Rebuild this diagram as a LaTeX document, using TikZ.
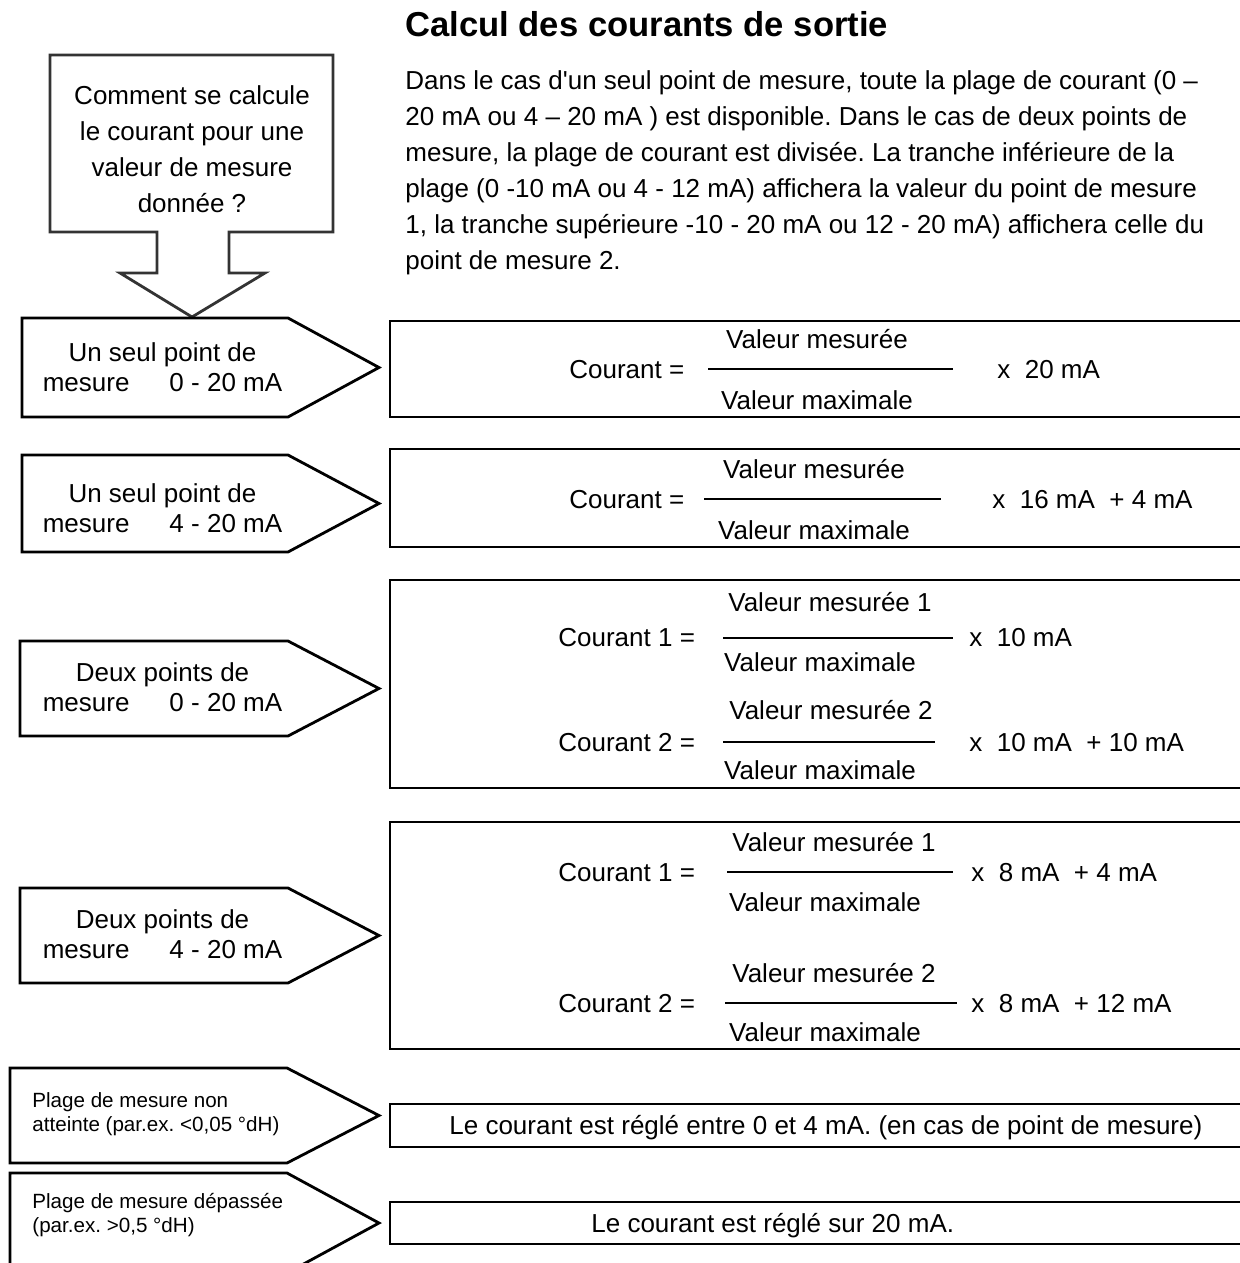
\documentclass[tikz,border=0pt]{standalone}
\usepackage{fontspec}
\setmainfont{Liberation Sans}
\usetikzlibrary{positioning}
\frenchspacing

\begin{document}
\begin{tikzpicture}[x=0.5pt, y=-0.5pt, every node/.style={inner sep=0pt},
  body/.style={font=\fontsize{13pt}{15pt}\selectfont},
  lbl/.style={body, anchor=base west},
  mid/.style={body, anchor=base},
  casetxt/.style={font=\fontsize{13pt}{15pt}\selectfont, align=center, anchor=north},
  smalltxt/.style={font=\fontsize{10.3pt}{12pt}\selectfont, align=left, anchor=north west},
  frame/.style={line width=1.4pt, draw=black, line join=miter},
  bar/.style={line width=0.9pt}]
  \useasboundingbox (0,0) rectangle (1240,1263);
  \clip (0,0) rectangle (1240,1263);

  % heading and explanation
  \node[anchor=base west, font=\fontsize{17.3pt}{20pt}\selectfont\bfseries] (title) at (405,37) {Calcul des courants de sortie};
  \node[anchor=north west, align=left, font=\fontsize{13pt}{18pt}\selectfont] (intro) at (405,63.8)
    {\strut Dans le cas d\textquotesingle un seul point de mesure, toute la plage de courant (0 –\\
     20 mA ou 4 – 20 mA ) est disponible. Dans le cas de deux points de\\
     mesure, la plage de courant est divisée. La tranche inférieure de la\\
     plage (0 -10 mA ou 4 - 12 mA) affichera la valeur du point de mesure\\
     1, la tranche supérieure -10 - 20 mA ou 12 - 20 mA) affichera celle du\\
     point de mesure 2.};

  % question with arrow down
  \draw[frame, draw=black!80] (50,55) -- (333,55) -- (333,232) -- (229,232) -- (229,273) -- (265,273)
    -- (192,317) -- (120,273) -- (157,273) -- (157,232) -- (50,232) -- cycle;
  \node[align=center, anchor=north, font=\fontsize{13pt}{18pt}\selectfont] (question) at (192,78.8)
    {\strut Comment se calcule\\le courant pour une\\valeur de mesure\\donnée ?};

  % cases (pointed boxes)
  \foreach \l/\t/\b/\p in {22/318/417/288, 22/455/552/288, 20/641/736/288, 20/888/983/288,
      10/1068/1163/287, 10/1173/1273/287}
    \draw[frame] (\l,\t) -- (\p,\t) -- (379,{(\t+\b)/2}) -- (\p,\b) -- (\l,\b) -- cycle;
  \node[casetxt] (single020) at (162.5,340) {\strut Un seul point de\\mesure\hspace{1.54em}0 - 20 mA};
  \node[casetxt] (single420) at (162.5,481) {\strut Un seul point de\\mesure\hspace{1.54em}4 - 20 mA};
  \node[casetxt] (double020) at (162.5,660) {\strut Deux points de\\mesure\hspace{1.54em}0 - 20 mA};
  \node[casetxt] (double420) at (162.5,907) {\strut Deux points de\\mesure\hspace{1.54em}4 - 20 mA};
  \node[smalltxt] (under) at (32,1090) {\strut Plage de mesure non\\atteinte (par.ex. <0,05 °dH)};
  \node[smalltxt] (over) at (32,1191) {\strut Plage de mesure dépassée\\(par.ex. >0,5 °dH)};

  % result boxes
  \foreach \t/\b in {321/417, 449/547, 580/788, 822/1049, 1104/1147, 1202/1244}
    \draw[frame] (390,\t) rectangle (1260,\b);

  % one point, 0 - 20 mA
  \node[lbl] (c1) at (569,378) {Courant =};
  \node[mid] (c1num) at (817,348) {Valeur mesurée};
  \node[mid] (c1den) at (817,409) {Valeur maximale};
  \draw[bar] (708,369) -- (953,369);
  \node[lbl] (c1fac) at (997,378) {x~~20 mA};

  % one point, 4 - 20 mA
  \node[lbl] (c2) at (569,508) {Courant =};
  \node[mid] (c2num) at (814,478) {Valeur mesurée};
  \node[mid] (c2den) at (814,539) {Valeur maximale};
  \draw[bar] (704,499) -- (941,499);
  \node[lbl] (c2fac) at (992,508) {x~~16 mA~~+ 4 mA};

  % two points, 0 - 20 mA
  \node[lbl] (c3a) at (558,646) {Courant 1 =};
  \node[mid] (c3anum) at (830,611) {Valeur mesurée 1};
  \node[mid] (c3aden) at (820,671) {Valeur maximale};
  \draw[bar] (723,638) -- (953,638);
  \node[lbl] (c3afac) at (969,646) {x~~10 mA};
  \node[lbl] (c3b) at (558,751) {Courant 2 =};
  \node[mid] (c3bnum) at (831,719) {Valeur mesurée 2};
  \node[mid] (c3bden) at (820,779) {Valeur maximale};
  \draw[bar] (723,742) -- (935,742);
  \node[lbl] (c3bfac) at (969,751) {x~~10 mA~~+ 10 mA};

  % two points, 4 - 20 mA
  \node[lbl] (c4a) at (558,881) {Courant 1 =};
  \node[mid] (c4anum) at (834,851) {Valeur mesurée 1};
  \node[mid] (c4aden) at (825,911) {Valeur maximale};
  \draw[bar] (727,872) -- (953,872);
  \node[lbl] (c4afac) at (971,881) {x~~8 mA~~+ 4 mA};
  \node[lbl] (c4b) at (558,1012) {Courant 2 =};
  \node[mid] (c4bnum) at (834,982) {Valeur mesurée 2};
  \node[mid] (c4bden) at (825,1041) {Valeur maximale};
  \draw[bar] (725,1003) -- (957,1003);
  \node[lbl] (c4bfac) at (971,1012) {x~~8 mA~~+ 12 mA};

  % out of range
  \node[lbl] (low) at (449,1134) {Le courant est réglé entre 0 et 4 mA. (en cas de point de mesure)};
  \node[lbl] (high) at (591,1232) {Le courant est réglé sur 20 mA.};
\end{tikzpicture}
\end{document}
